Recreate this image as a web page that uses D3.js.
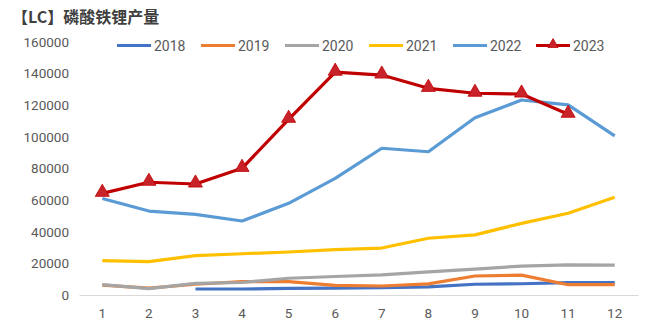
<!DOCTYPE html>
<html>
<head>
<meta charset="utf-8">
<script src="https://cdn.jsdelivr.net/npm/d3@7"></script>
<style>
  html, body { margin: 0; padding: 0; background: #ffffff; }
  svg { display: block; }
</style>
</head>
<body>
<script>
const months = [1, 2, 3, 4, 5, 6, 7, 8, 9, 10, 11, 12];
const yTicks = [0, 20000, 40000, 60000, 80000, 100000, 120000, 140000, 160000];
const seriesNames = ["2018", "2019", "2020", "2021", "2022", "2023"];
const seriesColors = ["#4472C4", "#ED7D31", "#A5A5A5", "#FFC000", "#5B9BD5", "#C00000"];
const s2018 = [null, null, 3800, 3800, 4200, 4400, 4600, 5100, 6800, 7100, 7800, 7800];
const s2019 = [6300, 4400, 6800, 8400, 8400, 6100, 5700, 7000, 12000, 12600, 6500, 6500];
const s2020 = [6600, 4000, 7300, 7900, 10600, 11700, 12700, 14600, 16400, 18300, 19000, 18900];
const s2021 = [21700, 21100, 24900, 26100, 27200, 28700, 29700, 35900, 38000, 45300, 51700, 61800];
const s2022 = [61000, 53100, 51000, 46800, 58000, 73800, 92800, 90600, 112100, 123300, 120200, 100600];
const s2023 = [64300, 71300, 70200, 80100, 111100, 140900, 139100, 130700, 127600, 127100, 114300, null];
const allSeries = [s2018, s2019, s2020, s2021, s2022, s2023];

const W = 659, H = 332;
const svg = d3.select("body").append("svg").attr("width", W).attr("height", H);

const x = d3.scaleBand().domain(months).range([79, 638]);
const y = d3.scaleLinear().domain([0, 160000]).range([295, 42]);
const cx = m => x(m) + x.bandwidth() / 2;

// title
svg.append("text")
  .attr("x", 12).attr("y", 23)
  .attr("font-family", "'Noto Sans CJK SC', sans-serif")
  .attr("font-size", 16).attr("font-weight", "bold")
  .attr("fill", "#404040")
  .text("【LC】磷酸铁锂产量");

// y axis labels
const yAxis = d3.axisLeft(y).tickValues(yTicks).tickSize(0).tickPadding(0).tickFormat(d3.format("d"));
const yg = svg.append("g").attr("transform", "translate(69,0)").call(yAxis);
yg.select(".domain").remove();
yg.selectAll("text")
  .attr("font-family", "Roboto, 'Liberation Sans', sans-serif")
  .attr("font-size", 13.5).attr("fill", "#595959");

// x axis
const xAxis = d3.axisBottom(x).tickSize(0).tickPadding(13);
const xg = svg.append("g").attr("transform", "translate(0,295)").call(xAxis);
xg.select(".domain").attr("stroke", "#D9D9D9").attr("stroke-width", 1);
xg.selectAll("text")
  .attr("font-family", "Roboto, 'Liberation Sans', sans-serif")
  .attr("font-size", 13.5).attr("fill", "#595959");

// lines
const line = d3.line()
  .defined(d => d.v !== null)
  .x(d => cx(d.m))
  .y(d => y(d.v));

allSeries.forEach((s, i) => {
  const data = months.map((m, j) => ({ m: m, v: s[j] }));
  svg.append("path")
    .datum(data)
    .attr("fill", "none")
    .attr("stroke", seriesColors[i])
    .attr("stroke-width", 3.2)
    .attr("stroke-linejoin", "round")
    .attr("d", line);
});

// 2023 triangle markers
const tri = d3.symbol().type(d3.symbolTriangle).size(85);
const d2023 = months.map((m, j) => ({ m: m, v: s2023[j] })).filter(d => d.v !== null);
svg.append("g").selectAll("path")
  .data(d2023).join("path")
  .attr("d", tri)
  .attr("transform", d => `translate(${cx(d.m)},${y(d.v) - 1})`)
  .attr("fill", "#C8232A")
  .attr("stroke", "#C00000")
  .attr("stroke-width", 0.8);

// legend
const legendX = [117, 201, 285, 369, 453, 536];
const lg = svg.append("g");
seriesNames.forEach((name, i) => {
  const lx = legendX[i];
  lg.append("line")
    .attr("x1", lx).attr("x2", lx + 34)
    .attr("y1", 45.5).attr("y2", 45.5)
    .attr("stroke", seriesColors[i]).attr("stroke-width", 3.2);
  if (i === 5) {
    lg.append("path")
      .attr("d", d3.symbol().type(d3.symbolTriangle).size(45)())
      .attr("transform", `translate(${lx + 17},${44.5})`)
      .attr("fill", "#C8232A").attr("stroke", "#C00000").attr("stroke-width", 0.8);
  }
  lg.append("text")
    .attr("x", lx + 37).attr("y", 50.5)
    .attr("font-family", "Roboto, 'Liberation Sans', sans-serif")
    .attr("font-size", 14).attr("fill", "#595959")
    .text(name);
});
</script>
</body>
</html>
